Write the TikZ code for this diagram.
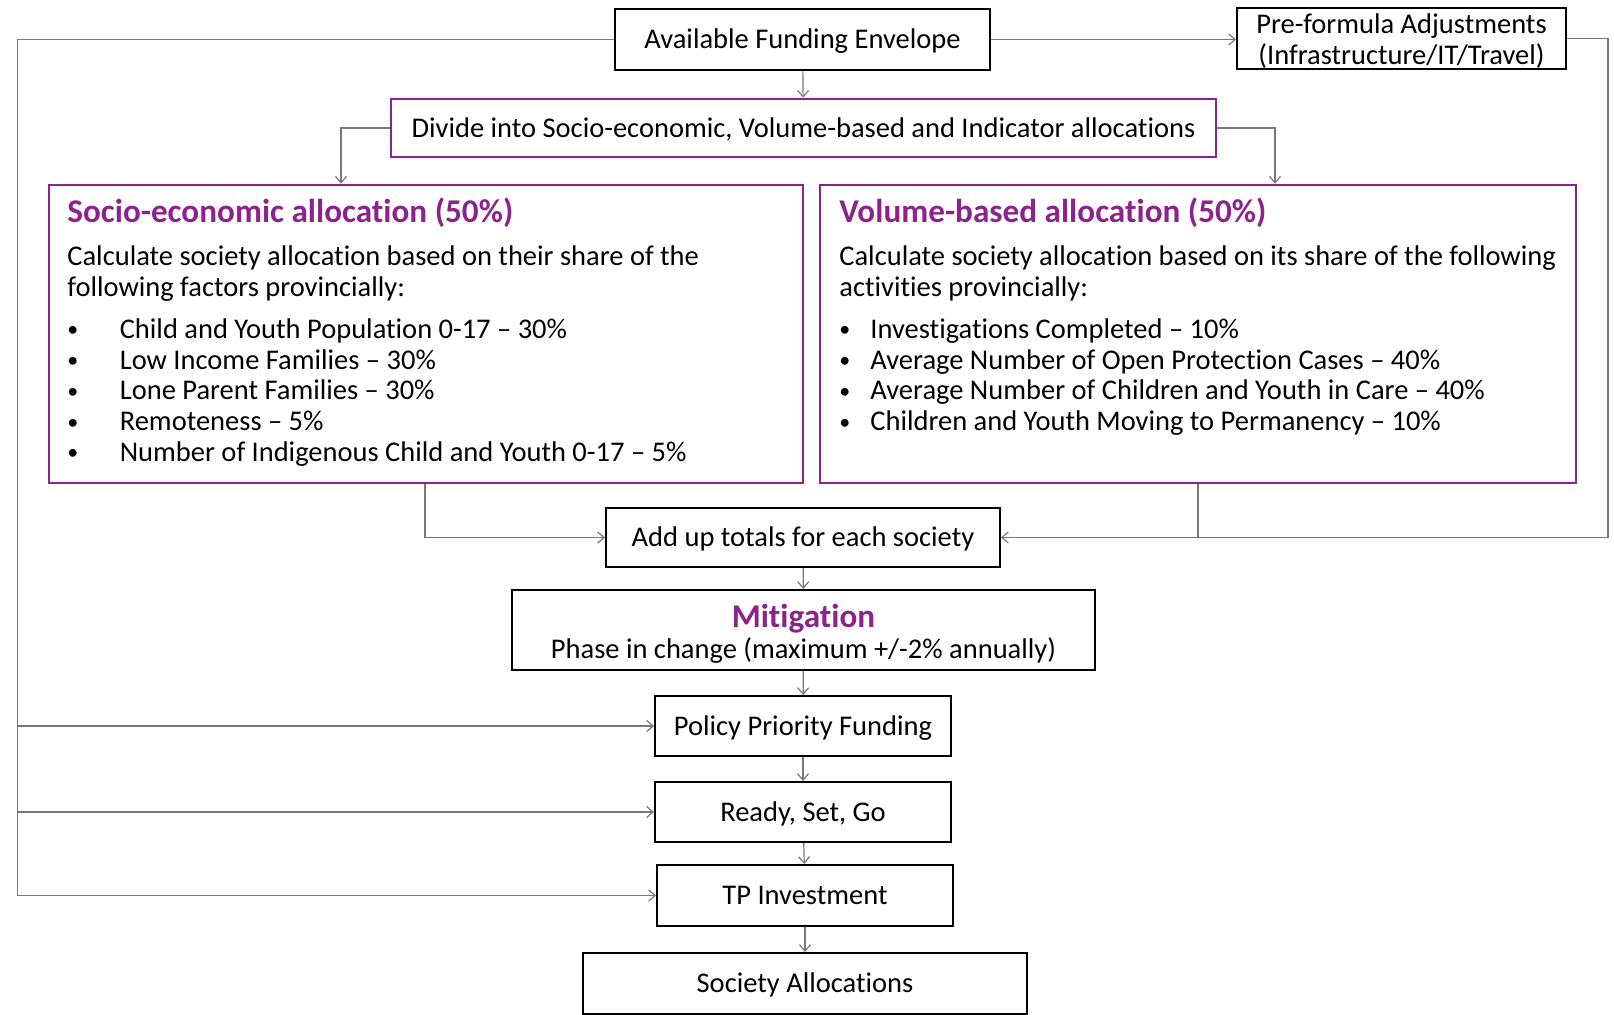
\documentclass[tikz,border=0pt]{standalone}
\usepackage{fontspec}
\setmainfont{Carlito}[Ligatures={TeX,NoCommon}]
\usetikzlibrary{arrows.meta}

\definecolor{plum}{RGB}{140,34,140}
\definecolor{wire}{RGB}{120,120,120}

\tikzset{
  stepbox/.style={draw=black, line width=1pt, inner sep=0pt, align=center,
    font=\fontsize{14.25}{15.5}\selectfont},
  oneline/.style={text height=12.2pt, text depth=3pt},
  purplebox/.style={draw=plum, line width=1.3pt, inner sep=0pt, align=center,
    font=\fontsize{14.25}{15.5}\selectfont},
  wire/.style={draw=wire, line width=0.6pt},
  head/.style={anchor=base west, inner sep=0pt, text=plum,
    font=\bfseries\fontsize{16.6}{19}\selectfont},
  body/.style={anchor=base west, inner sep=0pt}
}

\newcommand{\blt}[1]{\makebox[#1][l]{\raisebox{0.8pt}{\fontsize{11}{11}\selectfont\textbullet}}}

\begin{document}
\begin{tikzpicture}[x=0.5pt, y=-0.5pt, >={Straight Barb[length=3.2pt,width=5.5pt]}]
   \useasboundingbox (0,0) rectangle (1614,1014);

   % top row
   \path (802.5,39.5) node[stepbox, oneline, minimum width=187.5pt, minimum height=30.5pt] (AFE)
     {Available Funding Envelope};
   \path (1401.5,38.5) node[stepbox, minimum width=164.5pt, minimum height=30.5pt] (PFA)
     {\rule{0pt}{12pt}Pre-formula Adjustments\\(Infrastructure/IT/Travel)};
   \path (803.5,128) node[purplebox, oneline, minimum width=412.5pt, minimum height=29pt] (DIV)
     {Divide into Socio-economic, Volume-based and Indicator allocations};

   % the two allocation boxes
   \path (426,334) node[purplebox, minimum width=377pt, minimum height=149pt] (SE) {};
   \path (1198,334) node[purplebox, minimum width=378pt, minimum height=149pt] (VOL) {};

   \path (67,222) node[head] (SEhead) {Socio-economic allocation (50\%)};
   \path (67,265.5) node[body] (SEbody)
   {
     \parbox[t]{365pt}{\fontsize{14.25}{15.4}\selectfont
     Calculate society allocation based on their share of the\\
     following factors provincially:\\[5.6pt]
     \blt{26.2pt}Child and Youth Population 0-17 -- 30\%\\
     \blt{26.2pt}Low Income Families -- 30\%\\
     \blt{26.2pt}Lone Parent Families -- 30\%\\
     \blt{26.2pt}Remoteness -- 5\%\\
     \blt{26.2pt}Number of Indigenous Child and Youth 0-17 -- 5\%}
   };

   \path (839,222) node[head] (VOLhead) {Volume-based allocation (50\%)};
   \path (839,265.5) node[body] (VOLbody)
   {
     \parbox[t]{368pt}{\fontsize{14.25}{15.4}\selectfont
     Calculate society allocation based on its share of the following\\
     activities provincially:\\[5.6pt]
     \blt{15.5pt}Investigations Completed -- 10\%\\
     \blt{15.5pt}Average Number of Open Protection Cases -- 40\%\\
     \blt{15.5pt}Average Number of Children and Youth in Care -- 40\%\\
     \blt{15.5pt}Children and Youth Moving to Permanency -- 10\%}
   };

   % the chain down the middle
   \path (803,537.5) node[stepbox, oneline, minimum width=197pt, minimum height=29.5pt] (AUT)
     {Add up totals for each society};
   \path (803.5,630) node[stepbox, minimum width=291.5pt, minimum height=40pt] (MIT)
     {{\color{plum}\bfseries\fontsize{16.6}{18}\selectfont\rule{0pt}{15pt}Mitigation}\\
      Phase in change (maximum +/-2\% annually)};
   \path (803,726) node[stepbox, oneline, minimum width=148pt, minimum height=30pt] (PPF)
     {Policy Priority Funding};
   \path (803,812) node[stepbox, oneline, minimum width=148pt, minimum height=30pt] (RSG)
     {Ready, Set, Go};
   \path (805,895.5) node[stepbox, oneline, minimum width=148pt, minimum height=30.5pt] (TPI)
     {TP Investment};
   \path (805,983.5) node[stepbox, oneline, minimum width=222pt, minimum height=30.5pt] (SOC)
     {Society Allocations};

   % corners of the long connectors
   \coordinate (lt) at (17.5,39.5);
   \coordinate (rt) at (1608,38.5);
   \coordinate (dl) at (341,0);
   \coordinate (dr) at (1275,0);
   \coordinate (sb) at (425,537.5);
   \coordinate (vb) at (1198,537.5);

   \draw[wire,->] (AFE) -- (DIV);
   \draw[wire,->] (AFE.east) -- (AFE.east -| PFA.west);
   \draw[wire,->] (DIV.west) -| (SE.north -| dl);
   \draw[wire,->] (DIV.east) -| (VOL.north -| dr);
   \draw[wire,->] (sb |- SE.south) -- (sb) -- (AUT.west);
   \draw[wire] (vb |- VOL.south) -- (vb);
   \draw[wire,->] (PFA.east) -- (rt) -- (rt |- AUT.east) -- (AUT.east);
   \draw[wire] (AFE.west) -- (lt) -- (lt |- TPI.west);
   \draw[wire,->] (lt |- PPF.west) -- (PPF.west);
   \draw[wire,->] (lt |- RSG.west) -- (RSG.west);
   \draw[wire,->] (lt |- TPI.west) -- (TPI.west);
   \draw[wire,->] (AUT) -- (MIT);
   \draw[wire,->] (MIT) -- (PPF);
   \draw[wire,->] (PPF) -- (RSG);
   \draw[wire,->] (RSG) -- (TPI);
   \draw[wire,->] (TPI) -- (SOC);
\end{tikzpicture}
\end{document}
